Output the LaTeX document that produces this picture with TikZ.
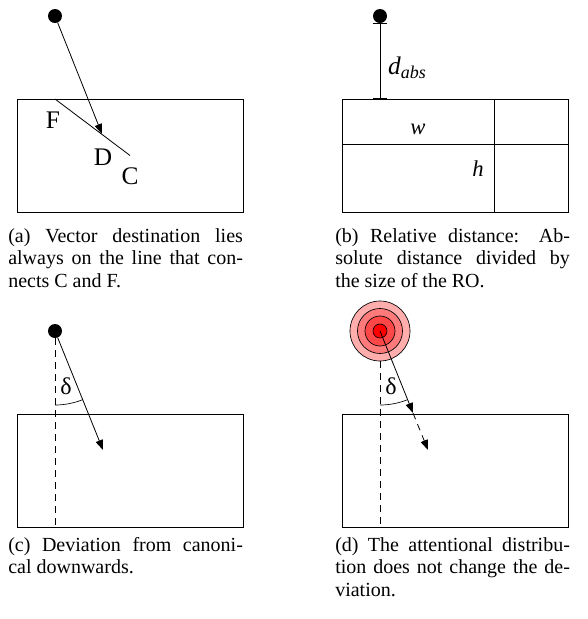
\documentclass[tikz,border=0pt]{standalone}
\usepackage{fontspec}
\setmainfont{Liberation Serif}
\usetikzlibrary{arrows.meta,positioning,calc}
\tikzset{
  robox/.style={
    rectangle, draw, line width=0.6pt,
    minimum width=169.5pt, minimum height=84.75pt, inner sep=0pt
  },
  lodot/.style={
    circle, fill=black, inner sep=0pt, minimum size=10.5pt
  },
  vec/.style={
    -{Triangle[length=7.5pt,width=5.5pt]}, line width=0.6pt
  },
  guide/.style={
    dashed, dash pattern=on 5pt off 4pt, line width=0.6pt
  },
  measv/.style={
    {Bar[width=11pt]}-{Bar[width=11pt]}, line width=0.6pt
  },
  meash/.style={
    {Bar[width=7.5pt]}-{Bar[width=7.5pt]}, line width=0.6pt
  },
  capt/.style={
    anchor=north west, text width=176pt, align=justify, inner sep=0pt,
    font=\fontsize{15}{16.9}\selectfont
  },
  lbl/.style={font=\fontsize{19}{19}\selectfont, inner sep=0pt},
  anglbl/.style={font=\fontsize{18}{18}\selectfont, inner sep=0pt},
  att/.style={circle, draw, line width=0.5pt, inner sep=0pt},
}

\begin{document}
\begin{tikzpicture}[x=0.75pt, y=-0.75pt]
  \useasboundingbox (0,0) rectangle (587,619);

  % (a) destination on line C--F
  \node[robox] (roa) at (130,155.5) {};
  \node[lodot] (loa) at (55,16) {};
  \coordinate (fa) at (55,99);
  \coordinate (da) at (102,134);
  \draw[line width=0.6pt] (fa) -- (roa.center);
  \draw[vec] (loa) -- (da);
  \node[lbl] (labf) at (53,120) {F};
  \node[lbl] (labd) at (103,157) {D};
  \node[lbl] (labc) at (130,176) {C};
  \node[capt] (capa) at (8,228) {(a) Vector destination lies\linebreak
    always on the line that con-\linebreak nects C and F.};

  % (b) relative distance
  \node[robox] (rob) at (455.5,155.5) {};
  \node[lodot] (lob) at (380,16) {};
  \draw[measv] (lob.south) -- (lob.south |- rob.north);
  \draw[meash] (rob.west |- 0,144) -- (rob.east |- 0,144);
  \draw[measv] (rob.north -| 494,0) -- (rob.south -| 494,0);
  \node[font=\fontsize{19}{19}\selectfont\itshape, inner sep=0pt] (labdabs) at (407,68)
    {d\raisebox{-0.35ex}{\fontsize{13.5}{13.5}\selectfont abs}};
  \node[font=\fontsize{17}{17}\selectfont\itshape, inner sep=0pt] (labw) at (418,129) {w};
  \node[font=\fontsize{17}{17}\selectfont\itshape, inner sep=0pt] (labh) at (478,169) {h};
  \node[capt] (capb) at (335,228) {(b) Relative distance: Ab-\linebreak
    solute distance divided by\linebreak the size of the RO.};

  % (c) deviation
  \node[robox] (roc) at (130,470.5) {};
  \node[lodot] (loc) at (55,331) {};
  \coordinate (dc) at (103,450);
  \draw[guide] (loc.south) -- (loc |- roc.south);
  \draw[vec] (loc) -- (dc);
  \draw[line width=0.5pt] ($(loc)+(90:74)$) arc[start angle=90, end angle=68, radius=74];
  \node[anglbl] (labdc) at (66,386) {δ};
  \node[capt] (capc) at (8,537) {(c) Deviation from canoni-\linebreak
    cal downwards.};

  % (d) attentional distribution
  \node[robox] (rod) at (455.5,470.5) {};
  \node[att, fill=red!32, minimum size=45pt] (att1) at (380,331) {};
  \node[att, fill=red!52, minimum size=33.75pt] (att2) at (att1) {};
  \node[att, fill=red!72, minimum size=22.5pt] (att3) at (att1) {};
  \node[att, fill=red, minimum size=10.5pt] (att4) at (att1) {};
  \coordinate (sd) at (413,413);
  \coordinate (dd) at (428,450);
  \draw[guide] (att1.south) -- (att1 |- rod.south);
  \draw[vec] (att4.center) -- (sd);
  \draw[vec, guide] (sd) -- (dd);
  \draw[line width=0.5pt] ($(att1)+(90:74)$) arc[start angle=90, end angle=68, radius=74];
  \node[anglbl] (labdd) at (391,386) {δ};
  \node[capt] (capd) at (335,537) {(d) The attentional distribu-\linebreak
    tion does not change the de-\linebreak viation.};
\end{tikzpicture}
\end{document}
